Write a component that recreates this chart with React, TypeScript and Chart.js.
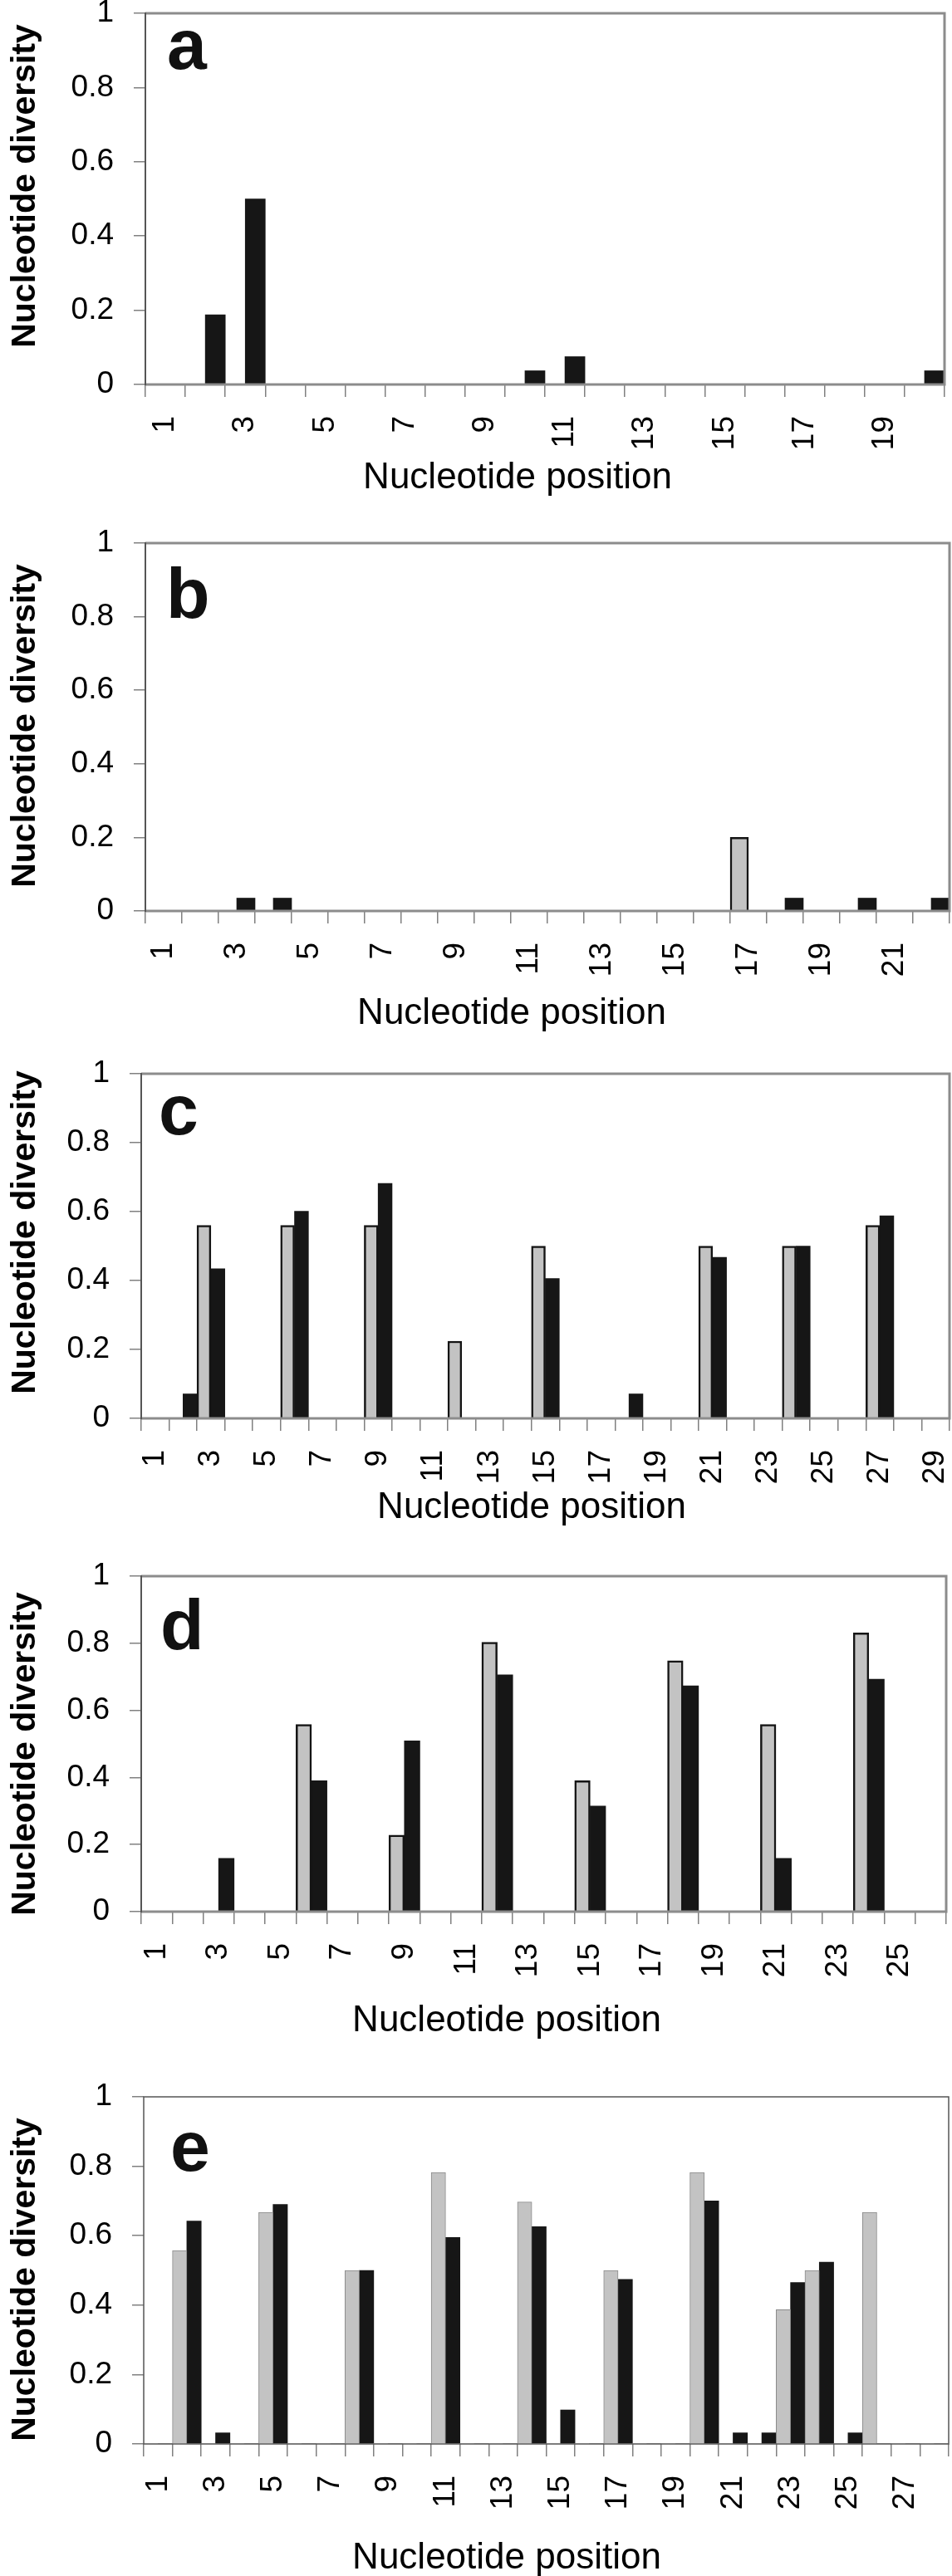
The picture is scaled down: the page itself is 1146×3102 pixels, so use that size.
import React, { useEffect, useRef } from 'react';
import { Chart, registerables } from 'chart.js';

Chart.register(...registerables);

const FONT = '"Liberation Sans", Arial, Helvetica, sans-serif';

const yTickLabels = ['0', '0.2', '0.4', '0.6', '0.8', '1'];
const xTitle = 'Nucleotide position';
const yTitle = 'Nucleotide diversity';

// Panel a
const positionsA = ['1','2','3','4','5','6','7','8','9','10','11','12','13','14','15','16','17','18','19','20'];
const grayA = [0,0,0,0,0,0,0,0,0,0,0,0,0,0,0,0,0,0,0,0];
const blackA = [0,0.188,0.5,0,0,0,0,0,0,0.037,0.075,0,0,0,0,0,0,0,0,0.037];

// Panel b
const positionsB = ['1','2','3','4','5','6','7','8','9','10','11','12','13','14','15','16','17','18','19','20','21','22'];
const grayB = [0,0,0,0,0,0,0,0,0,0,0,0,0,0,0,0,0.2,0,0,0,0,0];
const blackB = [0,0,0.035,0.035,0,0,0,0,0,0,0,0,0,0,0,0,0,0.035,0,0.035,0,0.035];

// Panel c
const positionsC = ['1','2','3','4','5','6','7','8','9','10','11','12','13','14','15','16','17','18','19','20','21','22','23','24','25','26','27','28','29'];
const grayC = [0,0,0.56,0,0,0.56,0,0,0.56,0,0,0.224,0,0,0.5,0,0,0,0,0,0.5,0,0,0.5,0,0,0.56,0,0];
const blackC = [0,0.071,0.434,0,0,0.601,0,0,0.682,0,0,0,0,0,0.406,0,0,0.071,0,0,0.467,0,0,0.5,0,0,0.588,0,0];

// Panel d
const positionsD = ['1','2','3','4','5','6','7','8','9','10','11','12','13','14','15','16','17','18','19','20','21','22','23','24','25','26'];
const grayD = [0,0,0,0,0,0.558,0,0,0.228,0,0,0.803,0,0,0.39,0,0,0.748,0,0,0.558,0,0,0.831,0,0];
const blackD = [0,0,0.159,0,0,0.39,0,0,0.509,0,0,0.706,0,0,0.315,0,0,0.673,0,0,0.159,0,0,0.693,0,0];

// Panel e
const positionsE = ['1','2','3','4','5','6','7','8','9','10','11','12','13','14','15','16','17','18','19','20','21','22','23','24','25','26','27','28'];
const grayE = [0,0.557,0,0,0.667,0,0,0.5,0,0,0.782,0,0,0.697,0,0,0.5,0,0,0.782,0,0,0.387,0.5,0,0.667,0,0];
const blackE = [0,0.642,0.032,0,0.69,0,0,0.5,0,0,0.595,0,0,0.626,0.098,0,0.474,0,0,0.7,0.032,0.032,0.465,0.524,0.032,0,0,0];

type PanelCfg = {
  letter: string;
  labels: string[];
  gray: number[];
  black: number[];
  canvasTop: number;
  canvasBottom: number;
  plotTop: number;
  plotBottom: number;
  plotLeft: number;
  plotRight: number;
  letterX: number;
  letterBaseline: number;
  xTitleX: number;
  xTitleBaseline: number;
  yTitleY: number;
  light: boolean;
};

const panels: PanelCfg[] = [
  { letter: 'a', labels: positionsA, gray: grayA, black: blackA, canvasTop: 0, canvasBottom: 620, plotTop: 16, plotBottom: 463, plotLeft: 175, plotRight: 1137, letterX: 201, letterBaseline: 83, xTitleX: 623, xTitleBaseline: 588, yTitleY: 224, light: false },
  { letter: 'b', labels: positionsB, gray: grayB, black: blackB, canvasTop: 620, canvasBottom: 1255, plotTop: 654, plotBottom: 1097, plotLeft: 175, plotRight: 1143, letterX: 200, letterBaseline: 744, xTitleX: 616, xTitleBaseline: 1233, yTitleY: 874, light: false },
  { letter: 'c', labels: positionsC, gray: grayC, black: blackC, canvasTop: 1255, canvasBottom: 1860, plotTop: 1293, plotBottom: 1708, plotLeft: 170, plotRight: 1143, letterX: 191, letterBaseline: 1366, xTitleX: 640, xTitleBaseline: 1828, yTitleY: 1484, light: false },
  { letter: 'd', labels: positionsD, gray: grayD, black: blackD, canvasTop: 1860, canvasBottom: 2480, plotTop: 1898, plotBottom: 2302, plotLeft: 170, plotRight: 1139, letterX: 193, letterBaseline: 1986, xTitleX: 610, xTitleBaseline: 2446, yTitleY: 2112, light: false },
  { letter: 'e', labels: positionsE, gray: grayE, black: blackE, canvasTop: 2480, canvasBottom: 3102, plotTop: 2525, plotBottom: 2943, plotLeft: 173, plotRight: 1142, letterX: 205, letterBaseline: 2614, xTitleX: 610, xTitleBaseline: 3093, yTitleY: 2745, light: true },
];

const CANVAS_W = 1146;

function Panel({ cfg }: { cfg: PanelCfg }) {
  const ref = useRef<HTMLCanvasElement | null>(null);

  useEffect(() => {
    const canvas = ref.current;
    if (!canvas) return;
    const h = cfg.canvasBottom - cfg.canvasTop;
    const top = cfg.canvasTop;

    const decor = {
      id: 'decor_' + cfg.letter,
      afterDatasetsDraw(chart: any) {
        const { ctx, chartArea } = chart;
        const { left, right, top: t, bottom } = chartArea;
        ctx.save();
        // frame
        if (cfg.light) {
          ctx.strokeStyle = '#555555';
          ctx.lineWidth = 1.5;
          ctx.strokeRect(left, t, right - left, bottom - t);
        } else {
          ctx.strokeStyle = '#8c8c8c';
          ctx.lineWidth = 3;
          ctx.beginPath();
          ctx.moveTo(left, t);
          ctx.lineTo(right, t);
          ctx.lineTo(right, bottom);
          ctx.lineTo(left, bottom);
          ctx.stroke();
          ctx.strokeStyle = '#555555';
          ctx.lineWidth = 2;
          ctx.beginPath();
          ctx.moveTo(left, t - 1);
          ctx.lineTo(left, bottom + 1);
          ctx.stroke();
        }
        // panel letter
        ctx.fillStyle = '#111111';
        ctx.font = `bold 86px ${FONT}`;
        ctx.textAlign = 'left';
        ctx.textBaseline = 'alphabetic';
        ctx.fillText(cfg.letter, cfg.letterX, cfg.letterBaseline - top);
        // x title
        ctx.fillStyle = '#000000';
        ctx.font = `44px ${FONT}`;
        ctx.textAlign = 'center';
        ctx.fillText(xTitle, cfg.xTitleX, cfg.xTitleBaseline - top);
        // y title
        ctx.translate(31, cfg.yTitleY - top);
        ctx.rotate(-Math.PI / 2);
        ctx.font = `bold 41px ${FONT}`;
        ctx.textAlign = 'center';
        ctx.textBaseline = 'middle';
        ctx.fillText(yTitle, 0, 0);
        ctx.restore();
      },
    };

    const grayBorderColor = cfg.light ? '#8a8a8a' : '#141414';
    const grayBorderWidth = cfg.light ? 1 : 2.5;

    const chart = new Chart(canvas, {
      type: 'bar',
      data: {
        labels: cfg.labels,
        datasets: [
          {
            data: cfg.gray,
            backgroundColor: '#c3c3c3',
            borderColor: grayBorderColor,
            borderWidth: (c: any) => (c.raw > 0 ? grayBorderWidth : 0),
            categoryPercentage: 1,
            barPercentage: 1,
          },
          {
            data: cfg.black,
            backgroundColor: '#161616',
            borderColor: '#161616',
            borderWidth: 0,
            categoryPercentage: 1,
            barPercentage: 1,
          },
        ],
      },
      options: {
        animation: false,
        responsive: false,
        devicePixelRatio: 1,
        layout: { padding: { top: cfg.plotTop - top, right: CANVAS_W - cfg.plotRight, left: 0, bottom: 0 } },
        plugins: {
          legend: { display: false },
          tooltip: { enabled: false },
          title: { display: false },
        },
        scales: {
          x: {
            grid: { display: true, drawOnChartArea: false, drawTicks: true, tickLength: 15, color: '#808080', lineWidth: 1.5, offset: true },
            border: { display: false },
            ticks: {
              autoSkip: false,
              minRotation: 90,
              maxRotation: 90,
              padding: 23,
              color: '#000000',
              font: { family: FONT, size: 37 },
              callback: (_v: any, i: number) => (i % 2 === 0 ? cfg.labels[i] : ''),
            },
            afterFit: (s: any) => {
              s.height = cfg.canvasBottom - cfg.plotBottom;
              s.paddingLeft = 0;
              s.paddingRight = 0;
            },
          },
          y: {
            min: 0,
            max: 1,
            grid: { display: true, drawOnChartArea: false, drawTicks: true, tickLength: 14, color: '#808080', lineWidth: 1.5 },
            border: { display: false },
            ticks: {
              stepSize: 0.2,
              padding: 24,
              color: '#000000',
              font: { family: FONT, size: 37 },
              callback: (v: any) => yTickLabels[Math.round(Number(v) * 5)],
            },
            afterFit: (s: any) => {
              s.width = cfg.plotLeft;
              s.paddingTop = 0;
              s.paddingBottom = 0;
            },
          },
        },
      },
      plugins: [decor],
    } as any);

    return () => chart.destroy();
  }, [cfg]);

  return (
    <canvas
      ref={ref}
      width={CANVAS_W}
      height={cfg.canvasBottom - cfg.canvasTop}
      style={{ position: 'absolute', left: 0, top: cfg.canvasTop, width: CANVAS_W, height: cfg.canvasBottom - cfg.canvasTop, display: 'block' }}
    />
  );
}

export default function App() {
  useEffect(() => {
    document.body.style.margin = '0';
    document.body.style.background = '#ffffff';
  }, []);
  return (
    <div style={{ position: 'absolute', left: 0, top: 0, width: CANVAS_W, height: 3102, background: '#ffffff', overflow: 'hidden' }}>
      {panels.map((p) => (
        <Panel key={p.letter} cfg={p} />
      ))}
    </div>
  );
}
